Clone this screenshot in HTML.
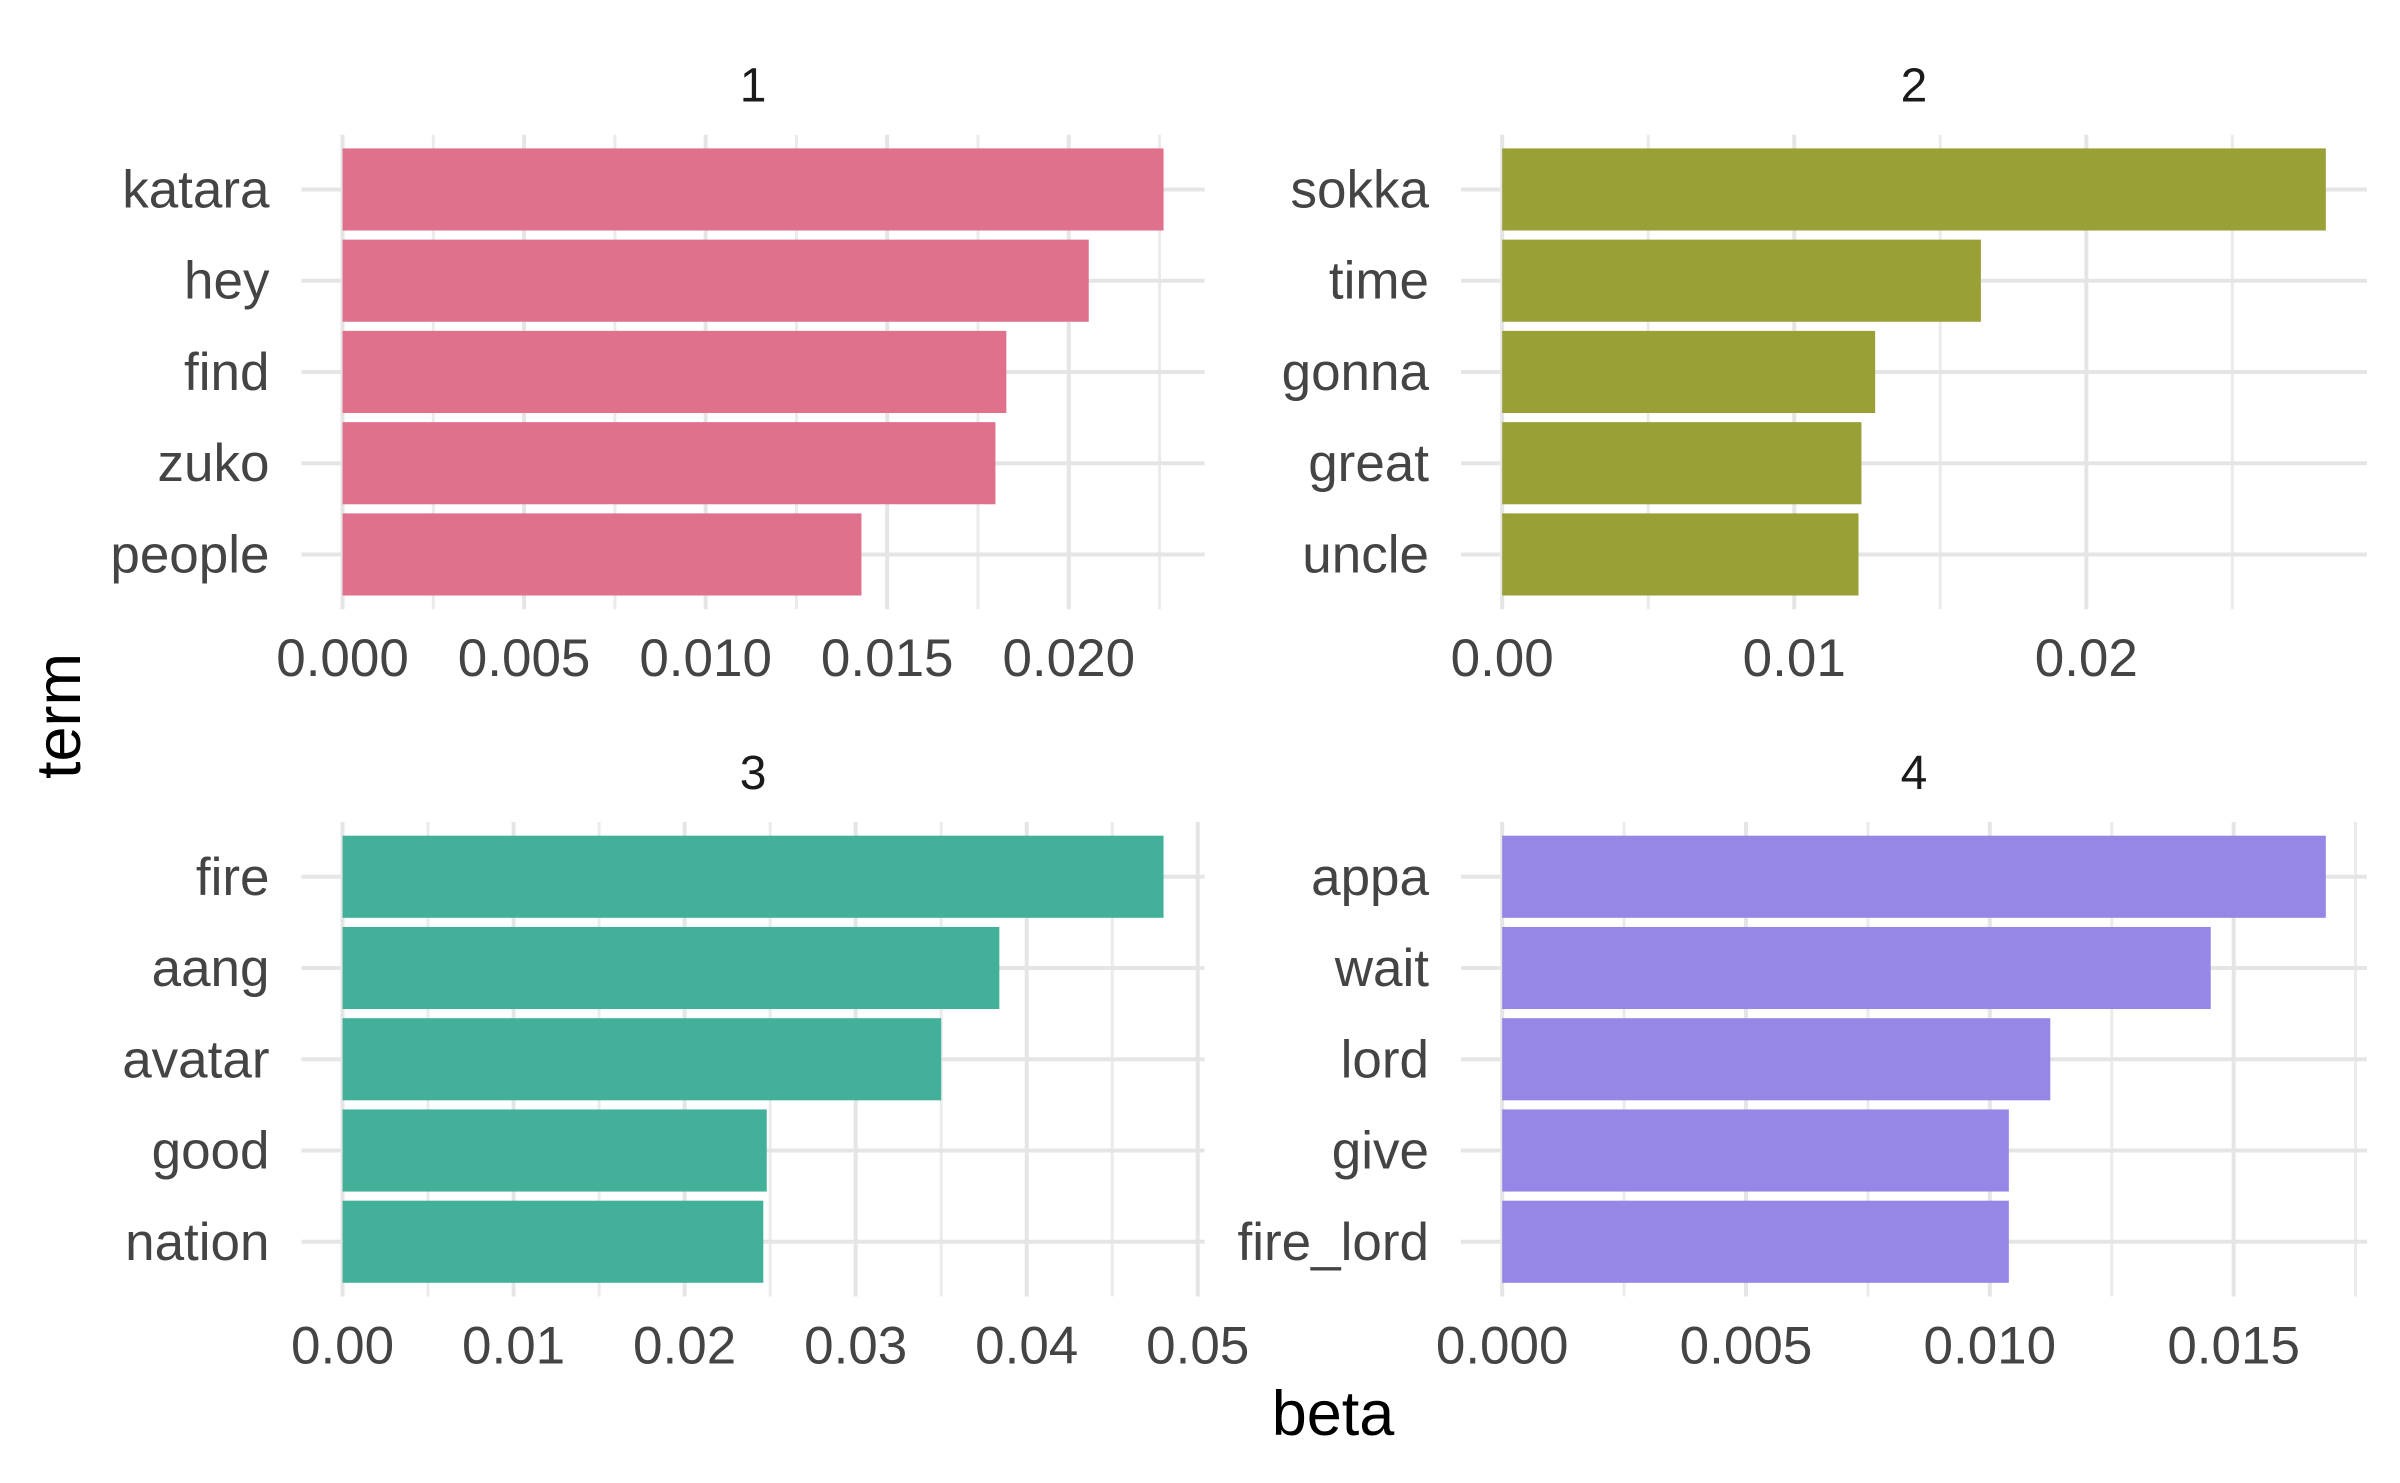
<!DOCTYPE html>
<html><head><meta charset="utf-8">
<style>
html,body{margin:0;padding:0;background:#fff;}
svg{display:block;font-family:"Liberation Sans",sans-serif;}
</style></head>
<body>
<svg id="chart" width="2400" height="1483" viewBox="0 0 2400 1483" xmlns="http://www.w3.org/2000/svg">
<rect width="2400" height="1483" fill="#fff"/>
<text x="1333" y="1435" font-size="63" text-anchor="middle" fill="#000">beta</text>
<text x="0" y="0" font-size="63" text-anchor="middle" fill="#000" transform="translate(80,716) rotate(-90)">term</text>
</svg>
<script>
const panelTitles = ["1","2","3","4"];
const terms1 = ["katara","hey","find","zuko","people"];
const values1 = [0.02261,0.02055,0.01828,0.01798,0.01429];
const terms2 = ["sokka","time","gonna","great","uncle"];
const values2 = [0.02820,0.01639,0.01277,0.01230,0.01220];
const terms3 = ["fire","aang","avatar","good","nation"];
const values3 = [0.0480,0.0384,0.0350,0.0248,0.0246];
const terms4 = ["appa","wait","lord","give","fire_lord"];
const values4 = [0.01689,0.01453,0.01124,0.01039,0.01039];
const ticks1 = [0,0.005,0.010,0.015,0.020];
const tickLabels1 = ["0.000","0.005","0.010","0.015","0.020"];
const ticks2 = [0,0.01,0.02];
const tickLabels2 = ["0.00","0.01","0.02"];
const ticks3 = [0,0.01,0.02,0.03,0.04,0.05];
const tickLabels3 = ["0.00","0.01","0.02","0.03","0.04","0.05"];
const ticks4 = [0,0.005,0.010,0.015];
const tickLabels4 = ["0.000","0.005","0.010","0.015"];
const colors = ["#df718c","#98a036","#43b09a","#9686e6"];

const svg = document.getElementById('chart');
const NS = "http://www.w3.org/2000/svg";
function mk(tag, attrs){const e=document.createElementNS(NS,tag);for(const k in attrs)e.setAttribute(k,attrs[k]);return e;}

const panels = [
 {terms:terms1,values:values1,ticks:ticks1,labels:tickLabels1,x0:301.5,x1:1204.6,y0:134.7,y1:609.2},
 {terms:terms2,values:values2,ticks:ticks2,labels:tickLabels2,x0:1461,x1:2367,y0:134.7,y1:609.2},
 {terms:terms3,values:values3,ticks:ticks3,labels:tickLabels3,x0:301.5,x1:1204.6,y0:822,y1:1296.5},
 {terms:terms4,values:values4,ticks:ticks4,labels:tickLabels4,x0:1461,x1:2367,y0:822,y1:1296.5}
];

panels.forEach((p,pi)=>{
  const g = mk('g',{});
  
  
  svg.appendChild(g);
  const maxV = Math.max(...p.values);
  const lo = -0.05*maxV, hi = maxV*1.05;
  const xs = v => p.x0 + (v-lo)/(hi-lo)*(p.x1-p.x0);
  const n = p.terms.length;
  const band = (p.y1-p.y0)/(n+0.2);
  const ys = i => p.y0 + (0.6+i)*band;
  for(let i=0;i<p.ticks.length;i++){
    const step = p.ticks[1]-p.ticks[0];
    const m = p.ticks[i]+step/2;
    if(m<hi){
      const l=mk('line',{x1:xs(m),x2:xs(m),y1:p.y0,y2:p.y1,stroke:'#ebebeb','stroke-width':3});
      
      
      g.appendChild(l);
    }
  }
  p.ticks.forEach((t,i)=>{
    const l=mk('line',{x1:xs(t),x2:xs(t),y1:p.y0,y2:p.y1,stroke:'#e5e5e5','stroke-width':4});
    
    
    g.appendChild(l);
    const tx=mk('text',{x:xs(t),y:p.y1+67,'font-size':53,'text-anchor':'middle',fill:'#444'});
    tx.textContent=p.labels[i];
    
    
    g.appendChild(tx);
  });
  p.terms.forEach((t,i)=>{
    const l=mk('line',{x1:p.x0,x2:p.x1,y1:ys(i),y2:ys(i),stroke:'#e5e5e5','stroke-width':4});
    
    
    g.appendChild(l);
  });
  p.terms.forEach((t,i)=>{
    const h=band*0.9;
    const r=mk('rect',{x:xs(0),y:ys(i)-h/2,width:xs(p.values[i])-xs(0),height:h,fill:colors[pi]});
    
    
    g.appendChild(r);
    const tx=mk('text',{x:p.x0-32,y:ys(i)+18,'font-size':53,'text-anchor':'end',fill:'#444'});
    tx.textContent=t;
    
    
    g.appendChild(tx);
  });
  const st=mk('text',{x:(p.x0+p.x1)/2,y:p.y0-33,'font-size':48,'text-anchor':'middle',fill:'#1a1a1a'});
  st.textContent=panelTitles[pi];
  
  
  g.appendChild(st);
});
</script>
</body></html>
